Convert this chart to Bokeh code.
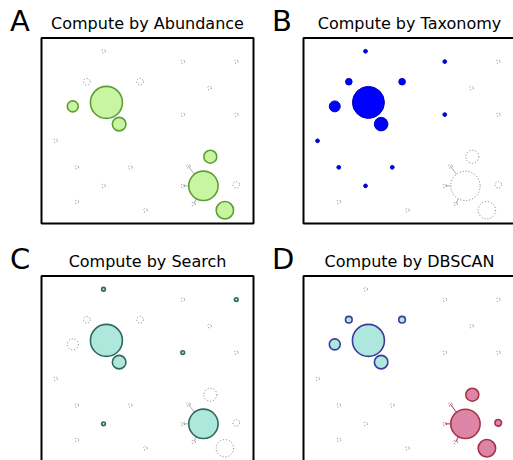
import numpy as np
from bokeh.plotting import figure
from bokeh.models import Range1d, ColumnDataSource
from bokeh.core.properties import value
from bokeh.embed import file_html
from bokeh.resources import INLINE

# ---- data: the same 24 sites shown in every panel (panel units, y up) ----
pt_id = list(range(1, 25))
pt_x = [2.34, 5.33, 7.35, 1.71, 3.72, 6.34, 5.33, 7.35, 0.53, 1.33, 3.35, 5.54,
        2.34, 5.33, 7.35, 1.33, 3.92, 5.74, 1.18, 2.45, 2.93, 6.37, 6.11, 6.92]
pt_y = [6.50, 6.11, 6.11, 5.35, 5.35, 5.11, 4.11, 4.11, 3.12, 2.12, 2.12, 2.16,
        1.42, 1.42, 1.46, 0.82, 0.50, 0.74, 4.42, 4.57, 3.75, 2.52, 1.42, 0.50]
abundance = [3.5, 3.5, 3.5, 11, 11, 3.5, 3.5, 3.5, 3.5, 3.5, 3.5, 3.5,
             3.5, 3.5, 11, 3.5, 3.5, 3.5, 30, 256, 46, 42, 216, 76]

panel_letters = ["A", "B", "C", "D"]
panel_titles = ["Compute by Abundance", "Compute by Taxonomy",
                "Compute by Search", "Compute by DBSCAN"]

sel_abundance = [19, 20, 21, 22, 23, 24]
sel_taxonomy = [1, 2, 4, 5, 7, 9, 10, 11, 13, 19, 20, 21]
sel_search = [1, 3, 7, 13, 20, 21, 23]
dbscan_cluster1 = [4, 5, 19, 20, 21]
dbscan_cluster2 = [12, 14, 15, 18, 22, 23, 24]
link_from = [12, 14, 18]
link_to = 23

# ---- layout constants ----
PX = 26.5            # pixels per panel unit
BOX_W, BOX_H = 8.0, 7.0
W, H = 513, 460
DX = 262 / PX
DY = 238 / PX
offsets = [(0.0, DY), (DX, DY), (0.0, 0.0), (DX, 0.0)]

p = figure(width=W, height=H,
           x_range=Range1d(-41 / PX, (W - 41) / PX),
           y_range=Range1d(1 / PX, (1 + H) / PX),
           output_backend="svg", toolbar_location=None,
           x_axis_location=None, y_axis_location=None, min_border=0)
p.grid.visible = False
p.outline_line_color = None
p.background_fill_color = "white"
p.border_fill_color = "white"

def diam(ids):
    return [2 * np.sqrt(abundance[i - 1]) for i in ids]

def src(ids, ox, oy):
    return ColumnDataSource(dict(
        x=[pt_x[i - 1] + ox for i in ids],
        y=[pt_y[i - 1] + oy for i in ids],
        s=diam(ids)))

GREY = "#7a7a7a"
styles = {
    "green": dict(fill_color="#c8f5a2", line_color="#5e9e35", line_width=1.6),
    "blue": dict(fill_color="#0000ff", line_color="#0000b8", line_width=1.0),
    "tealC": dict(fill_color="#aee8dc", line_color="#2e6b5e", line_width=1.6),
    "tealD": dict(fill_color="#aee8dc", line_color="#3a3c9e", line_width=1.6),
    "red": dict(fill_color="#dc85a6", line_color="#a83246", line_width=1.6),
}

panel_sel = [
    [(sel_abundance, "green")],
    [(sel_taxonomy, "blue")],
    [(sel_search, "tealC")],
    [(dbscan_cluster1, "tealD"), (dbscan_cluster2, "red")],
]

# link segments: from each neighbour to the edge of the central site
cx, cy = pt_x[link_to - 1], pt_y[link_to - 1]
r_c = np.sqrt(abundance[link_to - 1]) / PX
lx0, ly0, lx1, ly1 = [], [], [], []
for i in link_from:
    px_, py_ = pt_x[i - 1], pt_y[i - 1]
    d = np.hypot(cx - px_, cy - py_)
    f = (d - r_c) / d
    lx0.append(px_); ly0.append(py_)
    lx1.append(px_ + (cx - px_) * f); ly1.append(py_ + (cy - py_) * f)

for k in range(4):
    ox, oy = offsets[k]
    # panel box
    p.quad(left=[ox], right=[ox + BOX_W], bottom=[oy], top=[oy + BOX_H],
           fill_color=None, line_color="black", line_width=2)
    link_col = "#a83246" if k == 3 else "#b0b0b0"
    p.segment(x0=[v + ox for v in lx0], y0=[v + oy for v in ly0],
              x1=[v + ox for v in lx1], y1=[v + oy for v in ly1],
              line_color=link_col, line_width=1)
    selected = set()
    for ids, _ in panel_sel[k]:
        selected |= set(ids)
    # dotted outlines for unselected sites
    rest = [i for i in pt_id if i not in selected]
    p.scatter("x", "y", size="s", source=src(rest, ox, oy), marker="circle",
              fill_color=None, line_color=GREY, line_width=1, line_dash="1 2")
    for ids, st in panel_sel[k]:
        big = [i for i in ids if not (k == 3 and abundance[i - 1] < 5)]
        tiny = [i for i in ids if i not in big]
        p.scatter("x", "y", size="s", source=src(big, ox, oy), marker="circle",
                  **styles[st])
        if tiny:
            p.scatter("x", "y", size="s", source=src(tiny, ox, oy), marker="circle",
                      fill_color=None, line_color=styles[st]["line_color"],
                      line_width=1, line_dash="1 2")
    # title and panel letter
    p.text(x=[ox + BOX_W / 2], y=[oy + BOX_H + 15 / PX], text=[panel_titles[k]],
           text_align="center", text_baseline="alphabetic",
           text_font=value("DejaVu Sans"), text_font_size="16px", text_color="black")
    p.text(x=[ox - 31.5 / PX], y=[oy + BOX_H + 17.5 / PX], text=[panel_letters[k]],
           text_align="left", text_baseline="alphabetic",
           text_font=value("DejaVu Sans"), text_font_size="29px", text_color="black")

open("out.html", "w").write(file_html(p, INLINE))
